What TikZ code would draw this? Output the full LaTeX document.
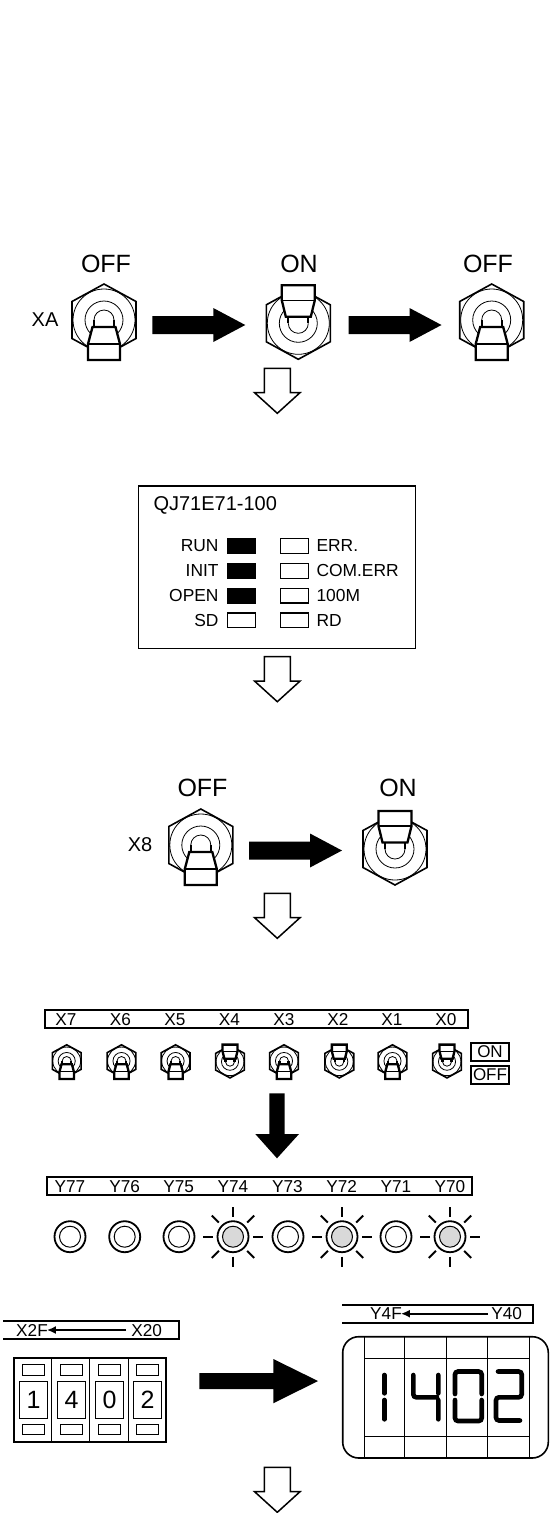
\documentclass[tikz,border=0pt]{standalone}
\usepackage{fontspec}
\setmainfont{Liberation Sans}
\usetikzlibrary{arrows.meta, positioning}

\begin{document}
\begin{tikzpicture}[
  x=1pt, y=-1pt, line join=miter,
  txtbig/.style={inner sep=0pt, font=\fontsize{25}{25}\selectfont},
  txtmid/.style={inner sep=0pt, font=\fontsize{20}{20}\selectfont},
  txtled/.style={inner sep=0pt, font=\fontsize{17.4}{17.4}\selectfont},
  txtbus/.style={inner sep=0pt, text height=12.5pt, text depth=0pt, font=\fontsize{17.2}{17.2}\selectfont},
  ledbox/.style={draw, line width=1.2pt, minimum width=28.5pt, minimum height=14.5pt, inner sep=0pt},
  ledfull/.style={ledbox, fill=black},
  statebox/.style={draw, line width=2pt, minimum width=38pt, minimum height=18pt, inner sep=0pt, font=\fontsize{17}{17}\selectfont},
  busline/.style={line width=2pt},
  busarrow/.style={line width=1.6pt, -{Latex[length=9pt,width=8pt]}},
  seg/.style={line width=4.6pt, line cap=round, rounded corners=3pt},
  hexline/.style={line width=1.6pt},
  thinline/.style={line width=.8pt},
  leverline/.style={line width=2.3pt, fill=white},
  toggleoff/.pic={
    \draw[hexline] (0,-36)--(32,-18.5)--(32,18.5)--(0,36)--(-32,18.5)--(-32,-18.5)--cycle;
    \draw[thinline] (0,0) circle (31);
    \draw[thinline] (0,0) circle (19);
    \draw[thinline] (-10,0) arc[start angle=180, end angle=360, radius=10];
    \draw[leverline] (-10,0)--(-10,7) (10,0)--(10,7);
    \draw[leverline] (-11.5,7)--(11.5,7)--(16,24)--(16,40)--(-16,40)--(-16,24)--cycle;
    \draw[line width=1.1pt] (-16,24)--(16,24);
  },
  toggleon/.pic={
    \draw[hexline] (0,-36)--(32,-18.5)--(32,18.5)--(0,36)--(-32,18.5)--(-32,-18.5)--cycle;
    \draw[thinline] (0,0) circle (31);
    \draw[thinline] (0,0) circle (19);
    \draw[thinline] (-10,0) arc[start angle=180, end angle=0, radius=10];
    \draw[leverline] (-10,0)--(-10,-7) (10,0)--(10,-7);
    \draw[leverline] (-12.5,-6.6)--(12.5,-6.6)--(16.5,-23)--(16.5,-38)--(-16.5,-38)--(-16.5,-23)--cycle;
    \draw[line width=1.1pt] (-16.5,-23)--(16.5,-23);
  },
  blockright/.pic={
    \fill (0,-9)--(61,-9)--(61,-17)--(93,0)--(61,17)--(61,9)--(0,9)--cycle;
  },
  hollowdown/.pic={
    \draw[line width=1.5pt] (-13,0)--(13,0)--(13,24.4)--(22.7,24.4)--(0,45)--(-22.7,24.4)--(-13,24.4)--cycle;
  },
  ledoff/.pic={
    \draw[line width=1.8pt] (0,0) circle (15.5);
    \draw[line width=1pt] (0,0) circle (10.5);
  },
  ledon/.pic={
    \draw[line width=1.8pt] (0,0) circle (15.5);
    \draw[line width=1pt, fill=black!15] (0,0) circle (10.5);
    \foreach \ang in {0,45,...,315}
      \draw[line width=1.9pt] (\ang:20)--(\ang:30);
  },
]
  \useasboundingbox (0,0) rectangle (549,1513);

  % first switch
  \node[txtbig] (off1) at (106,263.7) {OFF};
  \node[txtbig] (on1) at (299,263.7) {ON};
  \node[txtbig] (off2) at (488,263.7) {OFF};
  \node[txtmid] (xa) at (45,320) {XA};
  \pic at (104,320) {toggleoff};
  \pic at (298.3,323.3) {toggleon};
  \pic at (491.7,320) {toggleoff};
  \pic at (152.3,325) {blockright};
  \pic at (348.5,325) {blockright};
  \pic at (277.3,368.3) {hollowdown};

  % module
  \node[draw, line width=1.6pt, minimum width=277pt, minimum height=162.6pt, inner sep=0pt] (module) at (276.8,567) {};
  \node[txtmid, anchor=west] (modname) at (153.3,505) {QJ71E71-100};
  \foreach \nm/\yy/\sty/\txt in {run/546/ledfull/RUN, init/571/ledfull/INIT, open/595.7/ledfull/OPEN, sd/620.3/ledbox/SD} {
    \node[\sty] (\nm) at (241.6,\yy) {};
    \node[txtled, left=8pt of \nm] (\nm txt) {\txt};
  }
  \foreach \nm/\yy/\txt in {err/546/ERR., comerr/571/COM.ERR, mbit/595.7/100M, rd/620.3/RD} {
    \node[ledbox] (\nm) at (294.5,\yy) {};
    \node[txtled, right=7pt of \nm] (\nm txt) {\txt};
  }
  \pic at (277.3,656.7) {hollowdown};

  % second switch
  \node[txtbig] (off3) at (202.5,787.7) {OFF};
  \node[txtbig] (on2) at (398,787.7) {ON};
  \node[txtmid] (xeight) at (140,845) {X8};
  \pic at (200.8,845) {toggleoff};
  \pic at (395,849) {toggleon};
  \pic at (249,850.5) {blockright};
  \pic at (277.3,893.3) {hollowdown};

  % input row
  \node[draw, line width=1.6pt, minimum width=423.3pt, minimum height=18pt, inner sep=0pt] (xbar) at (256.4,1019) {};
  \foreach \nm/\xx in {7/66, 6/120.5, 5/175, 4/229.5, 3/284, 2/338, 1/392, 0/446}
    \node[txtbus] (x\nm) at (\xx,1019.5) {X\nm};
  \foreach \xx in {66.7,121.5,175.6,284,392.5}
    \pic[scale=.45] at (\xx,1061) {toggleoff};
  \foreach \xx in {230,339.3,447}
    \pic[scale=.45] at (\xx,1061.7) {toggleon};
  \node[statebox] (onbox) at (490,1052) {ON};
  \node[statebox] (offbox) at (490,1075) {OFF};

  \fill (269.3,1093.3)--(284.7,1093.3)--(284.7,1134)--(299,1134)--(277,1158.3)--(255.3,1134)--(269.3,1134)--cycle;

  % output row
  \node[draw, line width=1.6pt, minimum width=425.3pt, minimum height=18pt, inner sep=0pt] (ybar) at (259.4,1185.7) {};
  \foreach \nm/\xx in {77/70, 76/124.7, 75/178.7, 74/233, 73/287.5, 72/341.7, 71/396, 70/450}
    \node[txtbus] (y\nm) at (\xx,1186) {Y\nm};
  \foreach \xx in {70,124.7,179,288,396}
    \pic at (\xx,1236.7) {ledoff};
  \foreach \xx in {233,342,450}
    \pic at (\xx,1236.7) {ledon};

  % digital switch side
  \draw[busline] (3,1321)--(179,1321)--(179,1339)--(3,1339);
  \node[txtbus] (xtwof) at (32,1330) {X2F};
  \node[txtbus] (xtwozero) at (146.7,1330) {X20};
  \draw[busarrow, shorten <=5pt, shorten >=-1pt] (xtwozero) -- (xtwof);
  \draw[line width=1.6pt] (13.7,1357.7) rectangle (166,1442);
  \foreach \xx in {51.7,89.7,128.7}
    \draw[line width=1.4pt] (\xx,1357.7)--(\xx,1442);
  \foreach \nm/\xx/\dig in {a/33.5/1, b/71.5/4, c/109.5/0, d/147.5/2} {
    \node[draw, line width=.9pt, minimum width=21.5pt, minimum height=11pt, inner sep=0pt] (top\nm) at (\xx,1369.8) {};
    \node[draw, line width=.9pt, minimum width=28.4pt, minimum height=37.7pt, inner sep=0pt, font=\fontsize{25}{25}\selectfont] (dig\nm) at (\xx,1399.8) {\dig};
    \node[draw, line width=.9pt, minimum width=21.5pt, minimum height=10pt, inner sep=0pt] (bot\nm) at (\xx,1429.3) {};
  }
  \fill (199.3,1373)--(273.3,1373)--(273.3,1359)--(318,1381)--(273.3,1403.3)--(273.3,1389)--(199.3,1389)--cycle;

  % display side
  \draw[busline] (342,1304.7)--(533,1304.7)--(533,1322.7)--(342,1322.7);
  \node[txtbus] (yfourf) at (386,1313.7) {Y4F};
  \node[txtbus] (yforty) at (506.7,1313.7) {Y40};
  \draw[busarrow, shorten <=3pt, shorten >=-1pt] (yforty) -- (yfourf);
  \draw[line width=1.6pt, rounded corners=16pt] (342.7,1336.7) rectangle (548.3,1458);
  \foreach \xx in {364.3,404.3,446.7,487.7,529.3}
    \draw[line width=1.2pt] (\xx,1336.7)--(\xx,1458);
  \draw[line width=1.2pt] (364.3,1358.3)--(529.3,1358.3);
  \draw[line width=1.2pt] (364.3,1436.5)--(529.3,1436.5);
  \draw[seg] (384.3,1375)--(384.3,1393.3) (384.3,1400)--(384.3,1419.3);
  \draw[seg] (413.3,1375)--(413.3,1397.3)--(437,1397.3) (438.3,1375)--(438.3,1393.3) (438.3,1400)--(438.3,1419.3);
  \draw[seg] (455,1394)--(455,1371.5)--(481.7,1371.5)--(481.7,1394) (455,1400)--(455,1421)--(481.7,1421)--(481.7,1400);
  \draw[seg] (498,1371.5)--(521.7,1371.5)--(521.7,1397.3)--(496,1397.3)--(496,1420.5)--(520,1420.5);

  \pic at (277.3,1467.3) {hollowdown};
\end{tikzpicture}
\end{document}
